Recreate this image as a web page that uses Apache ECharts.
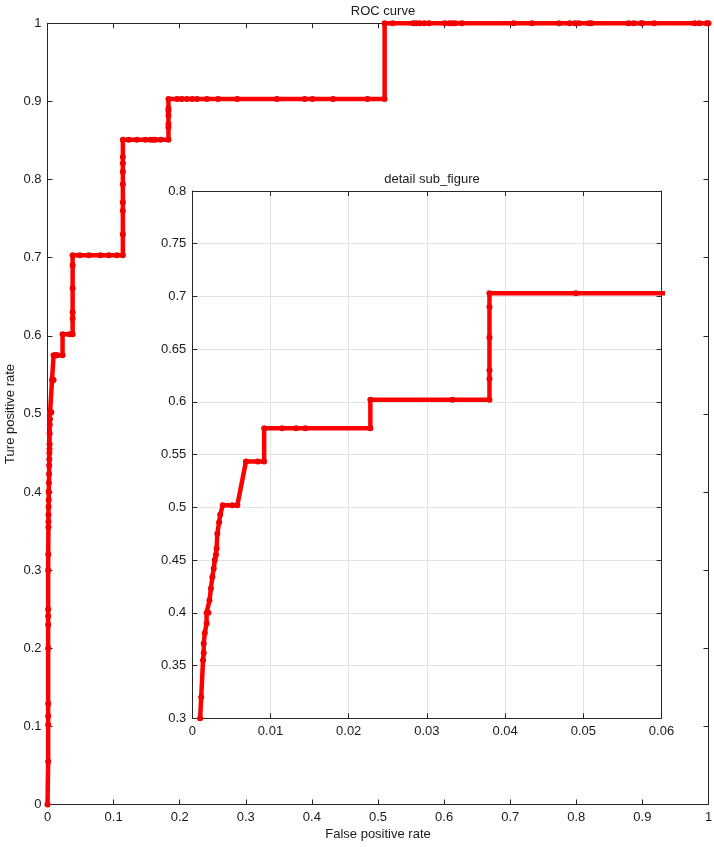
<!DOCTYPE html>
<html>
<head>
<meta charset="utf-8">
<script src="https://cdn.jsdelivr.net/npm/echarts@6/dist/echarts.min.js"></script>
<style>
html,body{margin:0;padding:0;background:#fff;}
#chart{width:714px;height:847px;}
</style>
</head>
<body>
<div id="chart"></div>
<script>
// ROC curve points (false positive rate, true positive rate)
const fpr = [
  0, 0.001, 0.001, 0.001, 0.001, 0.001, 0.001, 0.001, 0.001, 0.001,
  0.00114, 0.00137, 0.00146, 0.00146, 0.0016, 0.00183, 0.00183, 0.00206, 0.0022, 0.00238,
  0.00256, 0.00274, 0.00288, 0.00302, 0.00311, 0.0032, 0.00343, 0.00357, 0.00389, 0.00512,
  0.00576, 0.00686, 0.00837, 0.00919, 0.00919, 0.01148, 0.01326, 0.01445, 0.02277, 0.02277,
  0.03329, 0.038, 0.038, 0.038, 0.038, 0.038, 0.038, 0.04906, 0.0625, 0.08,
  0.0926, 0.105, 0.114, 0.114, 0.114, 0.114, 0.114, 0.114, 0.114, 0.114,
  0.114, 0.123, 0.135, 0.148, 0.156, 0.160, 0.163, 0.171, 0.183, 0.183,
  0.183, 0.183, 0.183, 0.183, 0.183, 0.196, 0.203, 0.211, 0.219, 0.226,
  0.241, 0.258, 0.287, 0.347, 0.389, 0.401, 0.432, 0.484, 0.510, 0.510,
  0.522, 0.553, 0.558, 0.563, 0.570, 0.577, 0.601, 0.608, 0.612, 0.617,
  0.627, 0.705, 0.733, 0.774, 0.790, 0.798, 0.804, 0.819, 0.823, 0.879,
  0.887, 0.898, 0.900, 0.918, 0.979, 0.986, 0.997, 1.0
];
const tpr = [
  0, 0.055, 0.102, 0.113, 0.129, 0.2, 0.23, 0.241, 0.25, 0.3,
  0.32, 0.355, 0.362, 0.371, 0.381, 0.39, 0.40, 0.40, 0.412, 0.423,
  0.434, 0.442, 0.45, 0.455, 0.461, 0.475, 0.486, 0.493, 0.502, 0.502,
  0.502, 0.5435, 0.5435, 0.5435, 0.575, 0.575, 0.575, 0.575, 0.575, 0.602,
  0.602, 0.602, 0.622, 0.63, 0.661, 0.69, 0.703, 0.703, 0.703, 0.703,
  0.703, 0.703, 0.703, 0.730, 0.760, 0.771, 0.794, 0.810, 0.821, 0.829,
  0.851, 0.851, 0.851, 0.851, 0.851, 0.851, 0.851, 0.851, 0.851, 0.867,
  0.871, 0.882, 0.888, 0.891, 0.903, 0.903, 0.903, 0.903, 0.903, 0.903,
  0.903, 0.903, 0.903, 0.903, 0.903, 0.903, 0.903, 0.903, 0.903, 1.0,
  1, 1, 1, 1, 1, 1, 1, 1, 1, 1,
  1, 1, 1, 1, 1, 1, 1, 1, 1, 1,
  1, 1, 1, 1, 1, 1, 1, 1
];

const mainTitle = 'ROC curve';
const insetTitle = 'detail sub_figure';
const xName = 'False positive rate';
const yName = 'Ture positive rate';

const rocData = fpr.map((x, i) => [x, tpr[i]]);

const FONT = "'Liberation Sans', Arial, Helvetica, sans-serif";
const AX = '#262626';
const labelStyle = { color: '#1a1a1a', fontFamily: FONT, fontSize: 13 };

function axisBase(extra) {
  return Object.assign({
    type: 'value',
    axisLine: { show: true, onZero: false, lineStyle: { color: AX, width: 1 } },
    axisTick: { show: true, inside: true, length: 5, lineStyle: { color: AX } },
    splitLine: { show: false },
    axisLabel: Object.assign({ show: true, margin: 6 }, labelStyle)
  }, extra);
}

const chart = echarts.init(document.getElementById('chart'), null, { renderer: 'canvas' });

const mainX = { min: 0, max: 1, interval: 0.1 };
const mainY = { min: 0, max: 1, interval: 0.1 };
const insX = { min: 0, max: 0.06, interval: 0.01 };
const insY = { min: 0.3, max: 0.8, interval: 0.05 };

const seriesStyle = {
  type: 'line',
  data: rocData,
  showSymbol: true,
  symbol: 'circle',
  symbolSize: 6,
  lineStyle: { color: '#ff0000', width: 4.5 },
  itemStyle: { color: '#f00000' },
  clip: true,
  silent: true,
  animation: false
};

chart.setOption({
  animation: false,
  backgroundColor: '#fff',
  title: [
    { text: mainTitle, left: 378, top: 0, textAlign: 'center',
      textStyle: { fontFamily: FONT, fontSize: 13, fontWeight: 'normal', color: '#1a1a1a' } },
    { text: insetTitle, left: 427, top: 168, textAlign: 'center',
      textStyle: { fontFamily: FONT, fontSize: 13, fontWeight: 'normal', color: '#1a1a1a' } }
  ],
  grid: [
    { left: 47.5, right: 5.5, top: 23.3, bottom: 42.5, containLabel: false,
      outerBoundsMode: 'none' },
    { left: 192.3, right: 52.5, top: 191, bottom: 128.7, containLabel: false,
      outerBoundsMode: 'none',
      show: true, backgroundColor: '#fff', borderWidth: 0 }
  ],
  xAxis: [
    axisBase(Object.assign({ gridIndex: 0, position: 'bottom',
      name: xName, nameLocation: 'middle', nameGap: 23, nameMoveOverlap: false,
      nameTextStyle: labelStyle }, mainX)),
    axisBase(Object.assign({ gridIndex: 0, position: 'top',
      axisLabel: { show: false } }, mainX)),
    axisBase(Object.assign({ gridIndex: 1, position: 'bottom',
      axisLabel: Object.assign({ show: true, margin: 7 }, labelStyle),
      splitLine: { show: true, lineStyle: { color: '#e3e3e3', width: 1 } } }, insX)),
    axisBase(Object.assign({ gridIndex: 1, position: 'top',
      axisLabel: { show: false } }, insX))
  ],
  yAxis: [
    axisBase(Object.assign({ gridIndex: 0, position: 'left',
      name: yName, nameLocation: 'middle', nameGap: 31, nameMoveOverlap: false,
      nameTextStyle: labelStyle }, mainY)),
    axisBase(Object.assign({ gridIndex: 0, position: 'right',
      axisLabel: { show: false } }, mainY)),
    axisBase(Object.assign({ gridIndex: 1, position: 'left',
      splitLine: { show: true, lineStyle: { color: '#e3e3e3', width: 1 } } }, insY)),
    axisBase(Object.assign({ gridIndex: 1, position: 'right',
      axisLabel: { show: false } }, insY))
  ],
  series: [
    Object.assign({ xAxisIndex: 0, yAxisIndex: 0, z: 2 }, seriesStyle),
    Object.assign({ xAxisIndex: 2, yAxisIndex: 2, z: 3 }, seriesStyle)
  ]
});
</script>
</body>
</html>
